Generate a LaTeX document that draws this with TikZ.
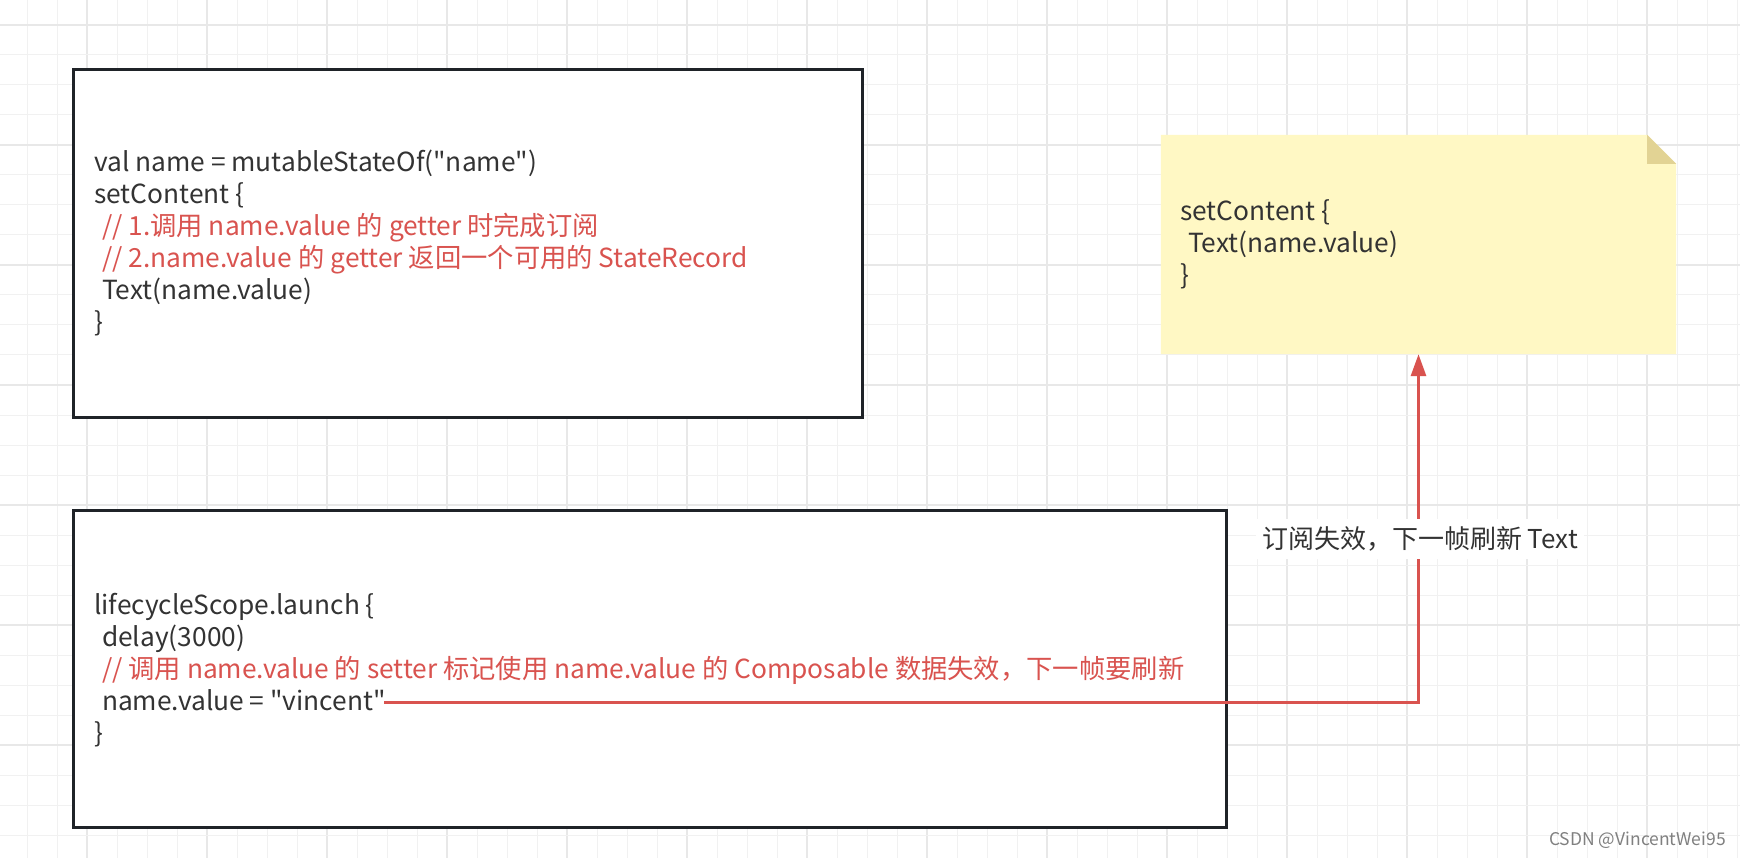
\documentclass[tikz,border=0pt]{standalone}
\usepackage{fontspec}
\setmainfont{Noto Sans CJK SC}[Ligatures=TeXOff]
\usetikzlibrary{arrows.meta}
\definecolor{txt}{HTML}{333333}
\definecolor{cred}{HTML}{D9534F}
\definecolor{notefill}{HTML}{FFF8C4}
\definecolor{notefold}{HTML}{E2D394}
\definecolor{gridminor}{HTML}{F1F1F1}
\definecolor{gridmajor}{HTML}{E8E8E8}
\definecolor{boxline}{HTML}{1F2328}
\newcommand{\ind}{\hspace*{0.3em}}
\tikzset{
  codebox/.style={draw=boxline, line width=3pt, fill=white, inner sep=0pt},
  codetext/.style={anchor=west, align=left, inner sep=0pt, text=txt, font=\fontsize{26.3}{32}\selectfont},
  notebox/.style={inner sep=0pt},
  redline/.style={draw=cred, line width=3pt, -{Triangle[length=22pt,width=15pt]}},
  lbl/.style={fill=white, text=txt, inner xsep=6pt, inner ysep=8pt, font=\fontsize{26}{30}\selectfont},
  wm/.style={anchor=east, text=black!50, inner sep=0pt, font=\fontsize{17.5}{20}\selectfont}
}
\begin{document}
\begin{tikzpicture}[x=1pt,y=-1pt]
\useasboundingbox (0,0) rectangle (1740,858);
\fill[white] (0,0) rectangle (1740,858);
% grid
\foreach \k in {0,...,57} {
  \pgfmathsetmacro{\xx}{27+30*\k}
  \pgfmathtruncatemacro{\m}{mod(\k,4)}
  \ifnum\m=2
    \draw[gridmajor, line width=1.6pt] (\xx,0) -- (\xx,858);
  \else
    \draw[gridminor, line width=1pt] (\xx,0) -- (\xx,858);
  \fi
}
\foreach \k in {0,...,28} {
  \pgfmathsetmacro{\yy}{25+30*\k}
  \pgfmathtruncatemacro{\m}{mod(\k,4)}
  \ifnum\m=0
    \draw[gridmajor, line width=1.6pt] (0,\yy) -- (1740,\yy);
  \else
    \draw[gridminor, line width=1pt] (0,\yy) -- (1740,\yy);
  \fi
}
% box 1
\node[codebox, minimum width=789pt, minimum height=347pt] (box1) at (467.5,243.5) {};
\node[codetext] (t1) at (94,243) {val name = mutableStateOf("name")\\
setContent \{\\
\textcolor{cred}{\ind// 1.调用 name.value 的 getter 时完成订阅}\\
\textcolor{cred}{\ind// 2.name.value 的 getter 返回一个可用的 StateRecord}\\
\ind Text(name.value)\\
\}};
% box 2
\node[codebox, minimum width=1153pt, minimum height=317pt] (box2) at (649.5,668.5) {};
\node[codetext] (t2) at (94,670) {lifecycleScope.launch \{\\
\ind delay(3000)\\
\textcolor{cred}{\ind// 调用 name.value 的 setter 标记使用 name.value 的 Composable 数据失效，下一帧要刷新}\\
\ind name.value = "vincent"\\
\}};
% note
\node[notebox, minimum width=515pt, minimum height=219pt] (note) at (1418.5,244.5) {};
\fill[notefill] (note.north west) -- ([xshift=-29pt]note.north east) -- ([yshift=-29pt]note.north east) -- (note.south east) -- (note.south west) -- cycle;
\fill[notefold] ([xshift=-29pt]note.north east) -- ([xshift=-29pt,yshift=-29pt]note.north east) -- ([yshift=-29pt]note.north east) -- cycle;
\node[codetext] (t3) at (1180,244) {setContent \{\\
\ind Text(name.value)\\
\}};
% connector
\coordinate (src) at (384,702);
\draw[redline] (src) -| (note.south);
\node[lbl] (l1) at (1420,539) {订阅失效，下一帧刷新 Text};
% watermark
\node[wm] (w) at (1726,840) {CSDN @VincentWei95};
\end{tikzpicture}
\end{document}
